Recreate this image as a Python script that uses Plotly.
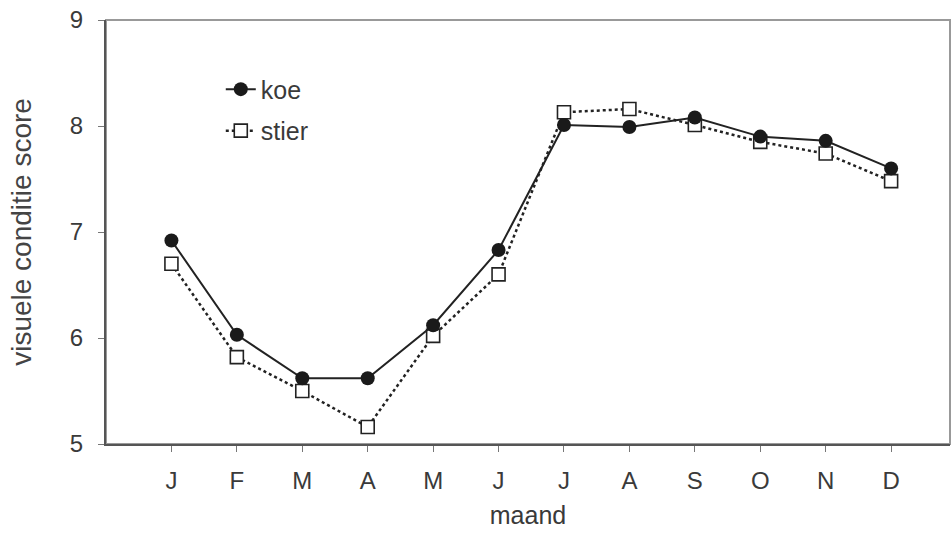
import plotly.graph_objects as go

months = ["J", "F", "M", "A", "M", "J", "J", "A", "S", "O", "N", "D"]
month_pos = list(range(1, 13))
koe = [6.92, 6.03, 5.62, 5.62, 6.12, 6.83, 8.01, 7.99, 8.08, 7.90, 7.86, 7.60]
stier = [6.70, 5.82, 5.50, 5.16, 6.02, 6.60, 8.13, 8.16, 8.01, 7.85, 7.74, 7.48]
y_ticks = [5, 6, 7, 8, 9]

font_family = "Liberation Sans, Arial, sans-serif"
text_color = "#3a3a3a"

fig = go.Figure()
fig.add_trace(go.Scatter(
    x=month_pos, y=stier, name="stier", mode="lines+markers",
    line=dict(color="#222222", width=2.5, dash="dot"),
    marker=dict(symbol="square", size=13, color="white",
                line=dict(color="#222222", width=1.6)),
    legendrank=2, legendgroup="b",
))
fig.add_trace(go.Scatter(
    x=month_pos, y=koe, name="koe", mode="lines+markers",
    line=dict(color="#222222", width=2),
    marker=dict(symbol="circle", size=14, color="#1a1a1a"),
    legendrank=1, legendgroup="a",
))

fig.update_layout(
    width=951, height=533,
    margin=dict(l=106, r=1, t=20, b=89),
    paper_bgcolor="white", plot_bgcolor="white",
    font=dict(family=font_family, size=20, color=text_color),
    showlegend=True,
    legend=dict(x=0.136, y=0.788, xanchor="left", yanchor="middle",
                bgcolor="rgba(0,0,0,0)", font=dict(size=25, color=text_color),
                traceorder="grouped", tracegroupgap=6),
    shapes=[dict(type="rect", xref="paper", yref="paper", x0=0, x1=1, y0=0, y1=1,
                 line=dict(color="#999999", width=2), layer="below")],
)
fig.update_xaxes(
    range=[0, 12.9], tickvals=month_pos, ticktext=months,
    showgrid=False, zeroline=False,
    showline=True, linecolor="#555555", linewidth=2,
    ticks="outside", ticklen=6, tickcolor="#777777", tickwidth=1,
    tickfont=dict(size=24, color=text_color), ticklabelstandoff=8,
    title=dict(text="maand", font=dict(size=25, color=text_color), standoff=14),
)
fig.update_yaxes(
    range=[5, 9], tickvals=y_ticks,
    showgrid=False, zeroline=False,
    showline=True, linecolor="#555555", linewidth=2,
    ticks="outside", ticklen=6, tickcolor="#777777", tickwidth=1,
    tickfont=dict(size=24, color=text_color), ticklabelstandoff=10,
    title=dict(text="visuele conditie score", font=dict(size=28, color="#444444"), standoff=30),
)

fig.write_html("out.html")
